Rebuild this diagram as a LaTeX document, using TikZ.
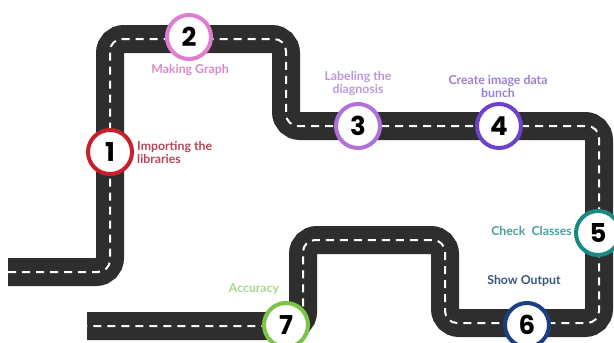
\documentclass[tikz,border=0pt]{standalone}
\usepackage{fontspec}
\setmainfont{Lato}
\newfontfamily\digitfont{Poppins}
\definecolor{asphalt}{HTML}{2E2E2E}
\definecolor{cOne}{HTML}{C8202A}
\definecolor{cTwo}{HTML}{DE7ED0}
\definecolor{cThree}{HTML}{B072D8}
\definecolor{cFour}{HTML}{6E42C8}
\definecolor{cFive}{HTML}{178A84}
\definecolor{cSix}{HTML}{1A3F85}
\definecolor{cSeven}{HTML}{7CC444}
\definecolor{tOne}{HTML}{B84656}
\definecolor{tTwo}{HTML}{DA8ACA}
\definecolor{tThree}{HTML}{BC98DA}
\definecolor{tFour}{HTML}{9A80D2}
\definecolor{tFive}{HTML}{44A0A0}
\definecolor{tSix}{HTML}{3A5680}
\definecolor{tSeven}{HTML}{A8D68A}
\begin{document}
\begin{tikzpicture}[x=1pt,y=-1pt,
  road/.style={draw=asphalt,line width=28pt,rounded corners=14pt},
  lane/.style={draw=white,line width=2pt,rounded corners=12pt,dash pattern=on 8pt off 6pt},
  milestone/.style={circle,draw=#1,line width=4pt,fill=white,minimum size=44pt,inner sep=0pt,
    font=\digitfont\bfseries\fontsize{26}{26}\selectfont,text=black},
  caption/.style={text=#1,font=\fontsize{12.3}{13}\selectfont\bfseries,inner sep=0pt,align=center}
]
\useasboundingbox (0,0) rectangle (614,343);
% turning points of the road
\coordinate (r0) at (8,272);
\coordinate (r1) at (110,272);
\coordinate (r2) at (110,39);
\coordinate (r3) at (286,39);
\coordinate (r4) at (286,126);
\coordinate (r5) at (599,126);
\coordinate (r6) at (599,323);
\coordinate (r7) at (445,323);
\coordinate (r8) at (445,240);
\coordinate (r9) at (303,240);
\coordinate (r10) at (303,326);
\coordinate (r11) at (87,326);
\path[road] (r0) -- (r1) -- (r2) -- (r3) -- (r4) -- (r5) -- (r6) -- (r7) -- (r8) -- (r9) -- (r10) -- (r11);
\path[lane] (r0) -- (r1) -- (r2) -- (r3) -- (r4) -- (r5) -- (r6) -- (r7) -- (r8) -- (r9) -- (r10) -- (r11);
% milestones along the road
\node[milestone=cOne]   (s1) at (110,152) {1};
\node[milestone=cTwo]   (s2) at (189,37)  {2};
\node[milestone=cThree] (s3) at (358,126) {3};
\node[milestone=cFour]  (s4) at (499,126) {4};
\node[milestone=cFive]  (s5) at (598,233) {5};
\node[milestone=cSix]   (s6) at (527,325) {6};
\node[milestone=cSeven] (s7) at (286,325) {7};
% step captions
\node[caption=tOne,anchor=west,align=left] (l1) at (137,152) {Importing the\\libraries};
\node[caption=tTwo]   (l2) at (190,70)  {Making Graph};
\node[caption=tThree] (l3) at (358,84)  {Labeling the\\diagnosis};
\node[caption=tFour]  (l4) at (498,86)  {Create image data\\bunch};
\node[caption=tFive,anchor=east] (l5) at (572,231) {Check\enspace Classes};
\node[caption=tSix]   (l6) at (524,281) {Show Output};
\node[caption=tSeven] (l7) at (254,289) {Accuracy};
\end{tikzpicture}
\end{document}
